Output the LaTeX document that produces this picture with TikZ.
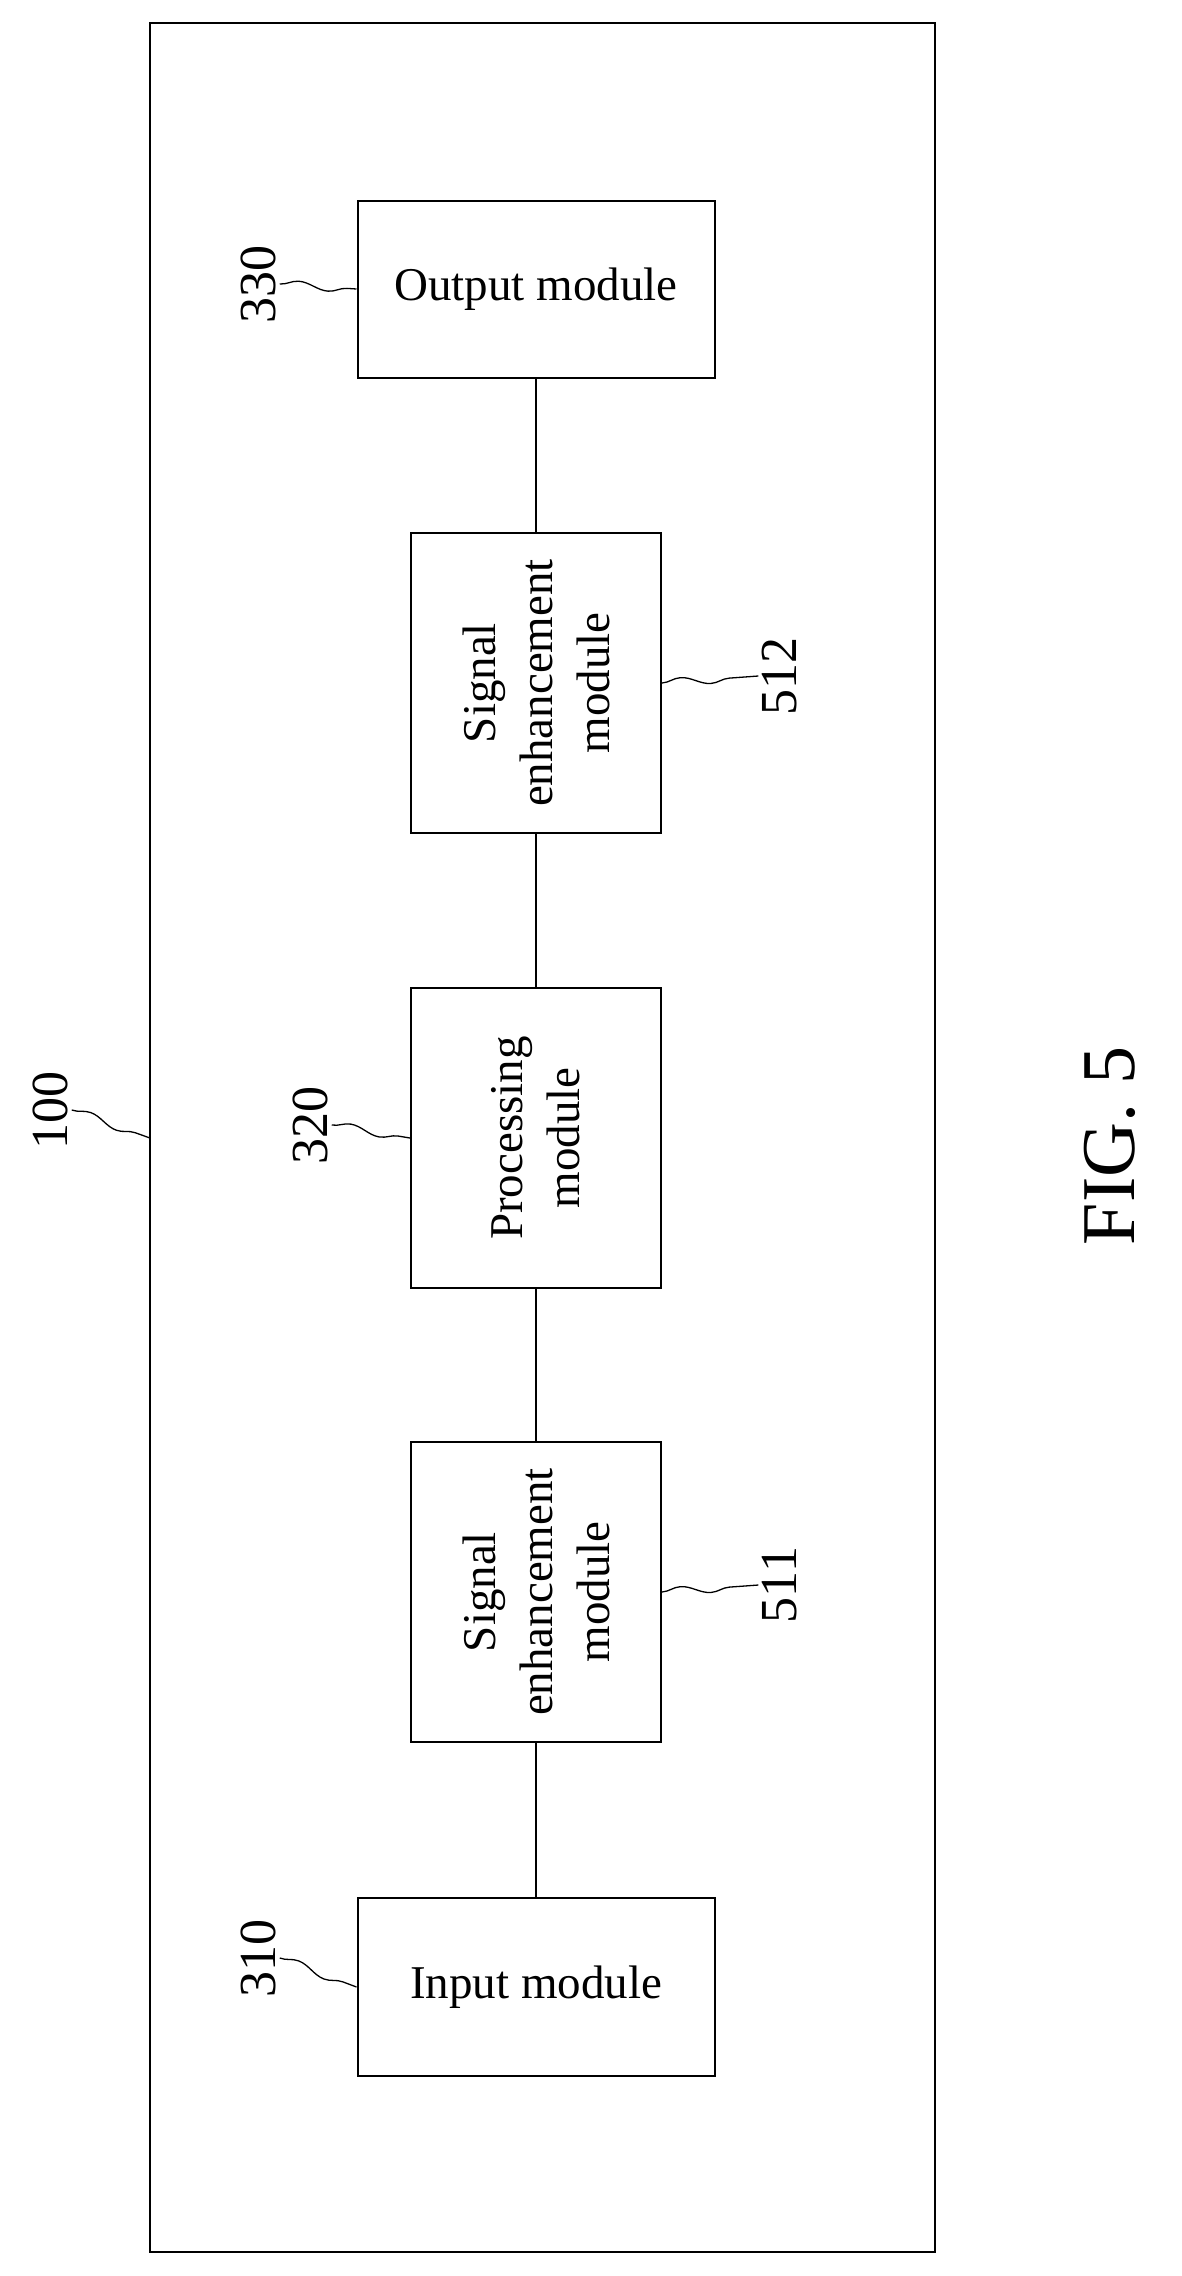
\documentclass[tikz,border=0pt]{standalone}
\usepackage{fontspec}
\setmainfont{Liberation Serif}
\usetikzlibrary{decorations.pathmorphing}
\tikzset{
  module/.style={draw,line width=2pt,align=center,inner sep=0pt,font=\fontsize{47}{57}\selectfont},
  vmodule/.style={module,rotate=90,minimum width=300pt,minimum height=250pt},
  reflabel/.style={rotate=90,inner sep=4pt,font=\fontsize{52}{54}\selectfont},
  squiggle/.style={line width=1.3pt,decorate,decoration={snake,amplitude=4pt,segment length=60pt}},
  link/.style={line width=2pt}
}
\begin{document}
\begin{tikzpicture}[x=1pt,y=-1pt]
        % Frame
        \useasboundingbox (0,0) rectangle (1181,2276);
        \draw[line width=2pt] (150,23) rectangle (935,2252);

        % Modules
        \node[module,minimum width=357pt,minimum height=177pt] (output) at (536,289) {Output module};
        \node[vmodule] (enh2) at (536,683) {Signal\\enhancement\\module};
        \node[vmodule] (proc) at (536,1138) {Processing\\module};
        \node[vmodule] (enh1) at (536,1592) {Signal\\enhancement\\module};
        \node[module,minimum width=357pt,minimum height=178pt] (input) at (536,1987) {Input module};

        % Links
        \draw[link] (output.south) -- (enh2.east);
        \draw[link] (enh2.west) -- (proc.east);
        \draw[link] (proc.west) -- (enh1.east);
        \draw[link] (enh1.west) -- (input.north);

        % Reference numerals
        \node[reflabel] (n330) at (258,284) {330};
        \draw[squiggle] (n330.south) -- (output.west);
        \node[reflabel] (n512) at (780,676) {512};
        \draw[squiggle] (enh2.south) -- (n512.north);
        \node[reflabel] (n320) at (310,1125) {320};
        \draw[squiggle] (n320.south) -- (proc.north);
        \node[reflabel] (n511) at (780,1585) {511};
        \draw[squiggle] (enh1.south) -- (n511.north);
        \node[reflabel] (n310) at (258,1958) {310};
        \draw[squiggle] (n310.south) -- (input.west);
        \node[reflabel] (n100) at (50,1110) {100};
        \coordinate (frame) at (150,1138);
        \draw[squiggle] (n100.south) -- (frame);

        % Caption
        \node[rotate=90,font=\fontsize{76}{80}\selectfont] (fig) at (1110,1146) {FIG. 5};
\end{tikzpicture}
\end{document}
